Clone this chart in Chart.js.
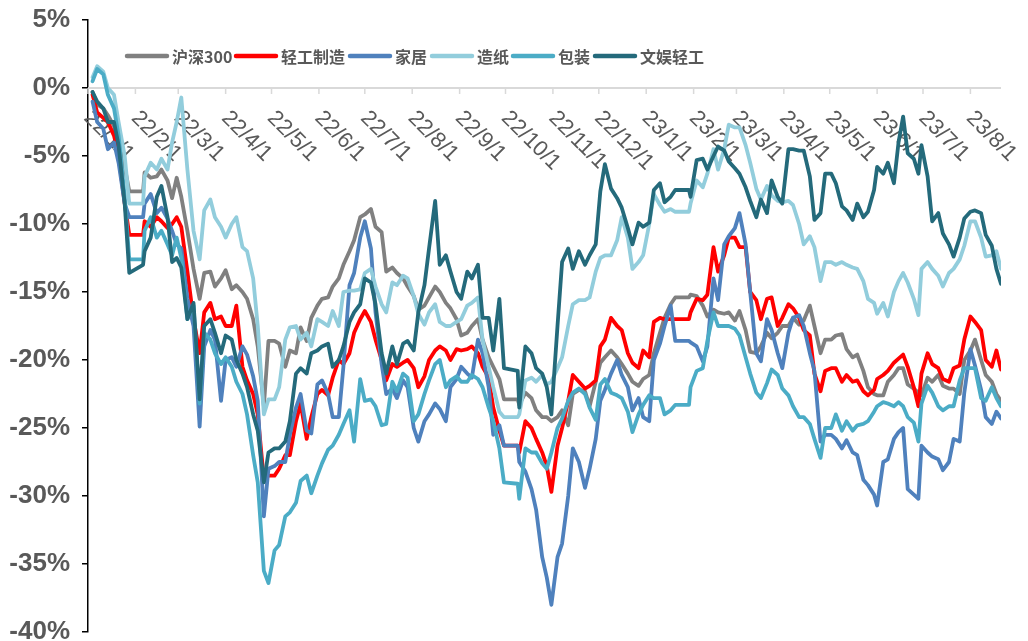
<!DOCTYPE html>
<html>
<head>
<meta charset="utf-8">
<script src="https://cdn.jsdelivr.net/npm/chart.js@4.4.1/dist/chart.umd.min.js"></script>
<style>
  html, body { margin: 0; padding: 0; background: #ffffff; overflow: hidden; }
  canvas { display: block; }
</style>
</head>
<body>
<canvas id="chart" width="1028" height="641"></canvas>
<script>
// Observation dates (yy/m/d)
const dates = [
  '22/1/4','22/1/7','22/1/11','22/1/14','22/1/18','22/1/21','22/1/25','22/1/28','22/2/6','22/2/7',
  '22/2/11','22/2/15','22/2/18','22/2/22','22/2/25','22/2/28','22/3/3','22/3/7','22/3/11','22/3/15',
  '22/3/18','22/3/22','22/3/25','22/3/29','22/4/1','22/4/5','22/4/8',
  '22/4/12','22/4/15','22/4/19','22/4/22','22/4/26','22/4/29','22/5/3','22/5/6','22/5/10','22/5/13',
  '22/5/17','22/5/20','22/5/24','22/5/27','22/5/31','22/6/3','22/6/7','22/6/10','22/6/14','22/6/17',
  '22/6/21','22/6/24','22/6/28','22/7/1','22/7/5','22/7/8','22/7/12','22/7/15',
  '22/7/19','22/7/22','22/7/26','22/7/29','22/8/2','22/8/5','22/8/9','22/8/12','22/8/16','22/8/19',
  '22/8/23','22/8/26','22/8/30','22/9/2','22/9/6','22/9/9','22/9/13','22/9/16','22/9/20','22/9/23',
  '22/9/27','22/9/30','22/10/9','22/10/10','22/10/14','22/10/18',
  '22/10/21','22/10/25','22/10/28','22/10/31','22/11/4','22/11/7','22/11/11','22/11/14','22/11/18','22/11/22',
  '22/11/25','22/11/29','22/12/2','22/12/5','22/12/9','22/12/13','22/12/16','22/12/20','22/12/23','22/12/27',
  '22/12/30','23/1/3','23/1/6','23/1/10','23/1/13','23/1/17','23/1/20','23/1/29',
  '23/1/30','23/2/3','23/2/7','23/2/10','23/2/14','23/2/17','23/2/21','23/2/24','23/2/28','23/3/3',
  '23/3/7','23/3/10','23/3/14','23/3/17','23/3/21','23/3/24','23/3/28','23/3/31','23/4/4','23/4/7',
  '23/4/11','23/4/14','23/4/18','23/4/21','23/4/25','23/4/28','23/5/2',
  '23/5/5','23/5/9','23/5/12','23/5/16','23/5/19','23/5/23','23/5/26','23/5/30','23/6/1','23/6/5',
  '23/6/8','23/6/12','23/6/15','23/6/18','23/6/21','23/6/25','23/6/28','23/6/30','23/7/4','23/7/7',
  '23/7/11','23/7/14','23/7/18','23/7/21','23/7/25','23/7/28','23/8/1','23/8/4','23/8/8','23/8/11',
  '23/8/15','23/8/18','23/8/21'
];

// Cumulative change (%) of each index
const hs300 = [
  -0.3,-1.2,-1.5,-2.0,-2.8,-4.0,-5.8,-7.6,-7.6,-6.2,-6.6,-6.5,-6.0,-6.8,-8.1,-6.6,-8.0,-10.5,-13.3,-15.5,-13.6,-13.5,-14.6,-14.0,-13.4,-14.8,-14.5,
  -15.0,-15.5,-17.0,-19.0,-23.4,-18.6,-18.6,-18.8,-20.5,-19.3,-19.5,-17.6,-18.6,-16.9,-16.0,-15.5,-15.4,-14.6,-14.0,-13.0,-12.0,-11.2,-9.5,-9.3,-8.9,-10.2,-10.6,-13.5,
  -13.2,-13.6,-14.0,-14.6,-15.3,-16.3,-16.0,-15.4,-14.6,-15.0,-15.8,-16.2,-17.0,-18.2,-18.0,-17.5,-17.0,-18.5,-19.8,-20.5,-21.4,-22.9,-22.9,-23.3,-22.4,-22.8,
  -23.7,-24.2,-24.2,-24.5,-24.2,-23.7,-24.8,-22.5,-22.2,-22.3,-23.4,-21.6,-20.2,-19.8,-19.3,-19.8,-20.3,-21.0,-21.6,-21.9,-21.4,-21.1,-19.5,-18.0,-16.9,-15.9,-15.4,-15.4,
  -15.2,-15.3,-16.0,-16.8,-16.3,-16.5,-16.6,-16.5,-17.1,-16.4,-17.8,-19.4,-19.5,-19.0,-18.0,-18.4,-18.0,-17.5,-17.5,-16.9,-17.4,-17.1,-16.0,-17.5,-19.5,-18.5,-18.5,
  -18.2,-18.1,-19.2,-19.8,-19.6,-20.8,-22.0,-22.5,-22.6,-22.6,-21.6,-21.1,-20.6,-20.6,-21.8,-22.1,-22.4,-22.6,-21.3,-21.6,-21.1,-21.9,-22.1,-22.1,-22.5,-20.0,-19.3,-18.5,-20.0,-21.1,-21.6,-22.5,-23.0
];
const lightIndustry = [
  -0.5,-1.8,-2.2,-2.5,-3.5,-5.0,-8.5,-10.8,-10.8,-9.8,-10.2,-9.5,-9.8,-10.3,-10.0,-9.5,-10.2,-13.5,-17.0,-19.5,-16.5,-15.8,-17.0,-16.8,-17.5,-17.5,-16.0,
  -20.5,-21.5,-22.5,-24.0,-28.8,-28.5,-28.5,-28.0,-27.0,-27.0,-24.5,-23.2,-25.8,-24.2,-22.5,-22.2,-22.6,-21.3,-20.0,-20.3,-19.5,-18.0,-17.0,-16.4,-17.2,-18.5,-20.0,-21.5,
  -20.3,-20.5,-20.2,-20.0,-20.6,-22.0,-21.2,-20.0,-19.3,-19.0,-19.3,-20.0,-19.2,-19.3,-19.2,-19.0,-19.5,-20.5,-21.3,-23.5,-25.2,-26.3,-26.3,-26.8,-24.5,-25.0,
  -25.8,-26.8,-27.8,-29.7,-26.3,-25.0,-23.0,-21.1,-21.6,-22.1,-21.9,-21.5,-19.0,-18.5,-16.9,-17.5,-17.8,-19.5,-20.2,-20.6,-19.3,-19.8,-17.2,-16.9,-17.0,-17.0,-17.0,-17.0,
  -16.5,-15.5,-15.6,-15.2,-11.7,-13.5,-12.3,-11.0,-11.0,-11.7,-11.7,-15.0,-15.6,-17.0,-15.5,-15.4,-17.5,-16.9,-15.9,-16.2,-16.9,-17.8,-18.2,-21.0,-22.3,-20.8,-20.6,
  -20.6,-21.6,-21.1,-21.6,-21.5,-22.3,-22.6,-22.2,-21.4,-21.1,-20.8,-20.2,-19.9,-19.6,-20.5,-22.0,-23.4,-21.0,-19.5,-20.3,-20.6,-21.4,-21.6,-20.6,-20.4,-18.5,-16.8,-17.2,-17.8,-20.0,-20.5,-19.3,-20.7
];
const furniture = [
  -1.0,-2.5,-3.0,-4.5,-4.0,-5.5,-8.5,-9.5,-9.5,-8.5,-7.8,-9.2,-8.8,-9.6,-10.5,-11.5,-11.8,-15.5,-17.5,-24.9,-19.0,-17.8,-18.5,-23.0,-20.0,-19.8,-20.5,
  -19.0,-19.6,-21.2,-23.0,-31.5,-28.0,-27.8,-27.5,-27.5,-25.5,-23.5,-22.5,-25.2,-25.4,-21.8,-21.5,-22.5,-24.2,-24.2,-20.5,-14.5,-13.6,-11.0,-9.8,-11.8,-16.5,-20.3,-22.5,
  -22.1,-22.8,-21.5,-22.0,-25.0,-26.0,-24.5,-24.0,-23.2,-23.6,-24.5,-22.0,-21.4,-20.5,-21.0,-21.3,-18.5,-19.5,-22.0,-25.5,-24.8,-26.3,-26.3,-27.5,-28.2,-29.5,
  -31.0,-34.5,-36.0,-38.0,-34.5,-33.5,-30.0,-26.5,-27.5,-29.4,-28.0,-25.8,-23.0,-22.2,-21.0,-20.0,-21.1,-22.0,-23.7,-22.8,-24.2,-24.5,-20.0,-18.8,-17.5,-16.0,-18.6,-18.6,
  -18.7,-19.0,-20.1,-19.0,-14.0,-15.6,-11.5,-10.9,-10.3,-9.2,-11.5,-15.0,-19.5,-20.1,-17.0,-17.8,-19.5,-20.6,-18.0,-16.9,-16.7,-17.5,-19.5,-20.8,-26.0,-25.5,-25.5,
  -25.8,-26.5,-25.9,-26.8,-27.0,-28.8,-29.2,-29.9,-30.7,-27.5,-27.3,-25.8,-25.3,-25.0,-29.5,-29.9,-30.2,-26.3,-26.8,-27.1,-27.3,-28.1,-27.5,-25.8,-26.0,-22.4,-19.2,-20.4,-22.2,-24.2,-24.7,-23.8,-24.3
];
const paper = [
  0.8,1.6,1.2,0.0,-0.5,-2.5,-5.0,-8.5,-8.5,-6.5,-5.5,-6.0,-5.2,-6.0,-4.0,-2.5,-0.7,-6.0,-10.5,-12.6,-9.0,-8.2,-9.5,-10.2,-11.0,-10.0,-9.5,
  -11.7,-12.0,-14.0,-17.5,-24.0,-22.9,-22.9,-22.0,-18.5,-17.6,-17.5,-18.5,-18.0,-19.0,-17.0,-17.2,-17.5,-16.4,-17.5,-15.0,-14.9,-14.9,-14.8,-13.6,-13.3,-14.6,-15.9,-16.5,
  -14.3,-14.5,-13.8,-14.0,-15.3,-16.6,-17.4,-16.5,-15.9,-17.2,-17.5,-17.5,-17.2,-17.0,-16.0,-15.8,-15.4,-18.5,-20.5,-22.0,-23.8,-24.2,-24.2,-24.0,-21.5,-21.3,
  -21.6,-21.1,-21.8,-21.6,-20.6,-19.8,-17.5,-15.9,-15.6,-15.6,-15.4,-13.5,-12.5,-12.3,-12.3,-11.2,-9.5,-11.0,-13.3,-12.8,-12.3,-10.0,-7.8,-8.6,-9.1,-8.9,-9.1,-9.1,
  -8.5,-6.8,-7.3,-6.3,-4.5,-6.0,-4.5,-2.7,-2.9,-2.9,-4.2,-5.5,-7.4,-8.2,-7.2,-7.9,-8.3,-8.4,-8.3,-8.6,-10.0,-11.5,-10.9,-11.7,-14.2,-12.8,-12.8,
  -13.0,-12.8,-13.0,-13.2,-13.3,-14.2,-15.5,-15.8,-16.6,-15.8,-16.8,-15.0,-14.2,-13.6,-14.3,-15.5,-16.7,-13.3,-12.8,-13.3,-13.8,-14.6,-13.6,-13.3,-12.6,-11.6,-9.8,-9.8,-11.0,-12.4,-12.3,-12.0,-13.3
];
const packaging = [
  0.5,1.4,1.0,-0.5,-1.5,-3.5,-8.0,-12.6,-12.6,-10.5,-9.5,-11.0,-10.5,-11.5,-12.3,-11.0,-12.5,-17.0,-16.0,-23.2,-18.0,-18.5,-19.5,-20.3,-19.8,-20.5,-21.6,
  -22.5,-24.0,-27.0,-29.0,-35.5,-36.4,-34.0,-33.6,-31.5,-31.2,-30.5,-28.9,-28.5,-29.8,-28.5,-27.6,-26.6,-26.3,-25.5,-24.7,-23.7,-26.0,-21.4,-23.0,-22.9,-23.4,-24.8,-24.7,
  -21.6,-22.3,-21.0,-21.3,-24.5,-24.0,-22.5,-21.5,-20.3,-20.0,-22.0,-21.5,-21.2,-21.6,-21.6,-21.1,-21.4,-22.0,-23.5,-24.5,-26.5,-29.0,-29.1,-30.2,-26.5,-26.8,
  -26.8,-27.6,-28.0,-26.8,-25.0,-24.3,-23.0,-22.4,-22.1,-22.5,-23.5,-24.4,-21.8,-21.4,-22.4,-22.6,-22.8,-23.8,-25.3,-24.0,-23.3,-22.6,-22.8,-22.8,-24.0,-23.7,-23.3,-23.3,
  -22.0,-20.8,-20.6,-18.6,-16.5,-17.5,-17.5,-17.5,-17.7,-18.2,-19.8,-21.0,-22.4,-22.8,-21.7,-20.7,-21.1,-22.1,-22.6,-23.4,-24.2,-24.2,-24.7,-25.8,-27.2,-25.0,-25.0,
  -24.0,-25.2,-24.5,-25.2,-24.8,-24.7,-24.5,-23.8,-23.4,-23.1,-23.2,-23.4,-23.1,-23.4,-24.2,-24.6,-26.0,-23.2,-21.9,-22.4,-23.4,-23.7,-23.4,-23.4,-21.5,-20.6,-20.6,-20.6,-22.8,-23.0,-22.0,-22.8,-23.4
];
const leisure = [
  -0.3,-1.0,-1.5,-2.5,-2.5,-4.2,-8.5,-13.6,-13.0,-12.0,-11.0,-8.0,-7.2,-9.5,-12.8,-12.5,-13.2,-17.0,-15.8,-22.9,-17.5,-17.0,-18.0,-19.5,-18.2,-18.5,-20.0,
  -21.0,-22.0,-24.0,-25.2,-29.0,-26.8,-26.5,-26.5,-26.0,-24.5,-21.0,-20.6,-21.0,-19.5,-19.3,-19.0,-18.8,-20.5,-20.0,-19.0,-17.2,-16.5,-15.9,-14.0,-14.3,-15.9,-19.5,-21.0,
  -19.0,-20.3,-18.8,-18.6,-19.3,-16.5,-14.5,-11.8,-8.3,-13.0,-12.3,-13.5,-15.0,-15.5,-13.5,-14.0,-13.0,-16.9,-16.9,-19.3,-15.5,-20.6,-20.8,-23.5,-19.0,-19.5,
  -20.6,-21.0,-22.0,-24.0,-17.5,-12.8,-11.8,-13.3,-12.0,-13.0,-12.3,-11.5,-7.6,-5.6,-7.4,-8.1,-8.8,-10.3,-11.5,-9.9,-10.2,-9.9,-7.5,-7.0,-8.4,-8.0,-7.5,-7.5,
  -8.0,-5.3,-5.2,-6.0,-5.0,-4.3,-4.6,-5.4,-5.9,-6.3,-7.3,-8.3,-9.5,-8.2,-9.2,-6.8,-8.0,-8.5,-4.5,-4.5,-4.6,-4.6,-6.5,-9.7,-9.2,-6.3,-6.3,
  -7.0,-8.7,-9.0,-9.7,-8.5,-9.5,-9.1,-7.5,-5.8,-6.3,-5.5,-7.0,-4.0,-2.1,-4.8,-5.2,-6.3,-4.2,-6.5,-9.8,-9.2,-10.7,-11.5,-12.4,-11.0,-9.6,-9.1,-9.0,-9.2,-10.8,-11.6,-13.3,-14.4
];

const seriesNames = ['沪深300', '轻工制造', '家居', '造纸', '包装', '文娱轻工'];
const seriesValues = [hs300, lightIndustry, furniture, paper, packaging, leisure];
const seriesColors = ['#808080', '#FF0000', '#4F81BD', '#92CDDC', '#4BACC6', '#246A7B'];

// Month labels along the zero line
const monthTicks = [
  '22/1/1','22/2/1','22/3/1','22/4/1','22/5/1','22/6/1','22/7/1','22/8/1','22/9/1','22/10/1',
  '22/11/1','22/12/1','23/1/1','23/2/1','23/3/1','23/4/1','23/5/1','23/6/1','23/7/1','23/8/1'
];
const yTicks = [5, 0, -5, -10, -15, -20, -25, -30, -35, -40];
const axisStart = '22/1/1';
const axisEnd = '23/8/21';

// day number counted from 2022-01-01
function dayOf(s) {
  const [y, m, d] = s.split('/').map(Number);
  return (Date.UTC(2000 + y, m - 1, d) - Date.UTC(2022, 0, 1)) / 86400000;
}

const xs = dates.map(dayOf);

const datasets = seriesNames.map((name, i) => ({
  label: name,
  data: seriesValues[i].map((v, k) => ({ x: xs[k], y: v })),
  borderColor: seriesColors[i],
  backgroundColor: seriesColors[i],
  borderWidth: 3.8,
  pointRadius: 0,
  tension: 0,
  borderJoinStyle: 'round',
  borderCapStyle: 'round',
  order: seriesNames.length - i
}));

// zero line, month ticks and slanted month labels
const monthAxis = {
  id: 'monthAxis',
  beforeDatasetsDraw(chart) {
    const { ctx, scales: { x, y } } = chart;
    const y0 = y.getPixelForValue(0);
    ctx.save();
    ctx.strokeStyle = '#D9D9D9';
    ctx.lineWidth = 2;
    ctx.beginPath();
    ctx.moveTo(x.getPixelForValue(dayOf(axisStart)), y0);
    ctx.lineTo(x.getPixelForValue(dayOf(axisEnd)), y0);
    ctx.stroke();
    ctx.lineWidth = 1.5;
    monthTicks.forEach(t => {
      const px = x.getPixelForValue(dayOf(t));
      ctx.beginPath();
      ctx.moveTo(px, y0);
      ctx.lineTo(px, y0 + 6);
      ctx.stroke();
    });
    ctx.fillStyle = '#595959';
    ctx.font = '22px "Liberation Sans", Arial, sans-serif';
    ctx.textAlign = 'left';
    ctx.textBaseline = 'alphabetic';
    const lift = 11;
    monthTicks.forEach(t => {
      const px = x.getPixelForValue(dayOf(t));
      ctx.save();
      ctx.translate(px - 5, y0 + 20 + lift);
      ctx.rotate(Math.PI / 4);
      ctx.fillText(t, 0, 0);
      ctx.restore();
    });
    ctx.restore();
  }
};

// legend row above the lines
const legendStarts = [127, 236, 350, 432, 513, 595];
const legendRow = {
  id: 'legendRow',
  afterDraw(chart) {
    const { ctx } = chart;
    ctx.save();
    ctx.font = 'bold 16px "Noto Sans CJK SC", sans-serif';
    ctx.textBaseline = 'middle';
    ctx.textAlign = 'left';
    const py = 56;
    seriesNames.forEach((name, i) => {
      const px = legendStarts[i];
      ctx.strokeStyle = seriesColors[i];
      ctx.lineWidth = 4.5;
      ctx.lineCap = 'round';
      ctx.beginPath();
      ctx.moveTo(px, py);
      ctx.lineTo(px + 40, py);
      ctx.stroke();
      ctx.fillStyle = '#595959';
      ctx.fillText(name, px + 45, py + 1);
    });
    ctx.restore();
  }
};

new Chart(document.getElementById('chart'), {
  type: 'line',
  data: { datasets },
  plugins: [monthAxis, legendRow],
  options: {
    responsive: false,
    animation: false,
    devicePixelRatio: 1,
    layout: { padding: { left: 0, top: 20, right: 27, bottom: 9 } },
    plugins: { legend: { display: false }, tooltip: { enabled: false } },
    scales: {
      x: {
        type: 'linear',
        min: dayOf(axisStart),
        max: dayOf(axisEnd),
        display: false
      },
      y: {
        min: -40,
        max: 5,
        afterBuildTicks(scale) { scale.ticks = yTicks.map(v => ({ value: v })); },
        afterFit(scale) { scale.width = 88; scale.paddingTop = 0; scale.paddingBottom = 0; },
        ticks: {
          callback: v => v + '%',
          color: '#595959',
          padding: 12,
          font: { family: '"Liberation Sans", Arial, sans-serif', size: 26, weight: 'bold' }
        },
        grid: { drawOnChartArea: false, drawTicks: true, tickLength: 6, color: '#000000', lineWidth: 1.5 },
        border: { color: '#000000', width: 1.5 }
      }
    }
  }
});
</script>
</body>
</html>
